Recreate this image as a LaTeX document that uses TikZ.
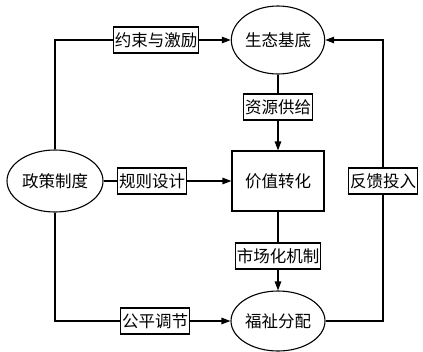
\documentclass[tikz,border=0pt]{standalone}
\usepackage{fontspec}
\newfontfamily\cjk{Noto Sans CJK SC}
\usetikzlibrary{shapes.geometric,arrows.meta}
\begin{document}
\begin{tikzpicture}[x=1pt,y=-1pt,
  every node/.style={font=\cjk\fontsize{16.5}{18}\selectfont, line width=1.1pt},
  oval/.style={draw, ellipse, inner sep=0pt},
  block/.style={draw, rectangle, minimum width=92pt, minimum height=60pt},
  tag/.style={draw, fill=white, rectangle, inner xsep=1.5pt, inner ysep=0pt, minimum height=26pt},
  conn/.style={line width=1.1pt},
  arr/.style={conn, -{Triangle[length=9pt,width=6.5pt]}}]
\useasboundingbox (0,0) rectangle (423,351);
\node[oval, minimum width=93pt, minimum height=68pt] (stbd) at (278,40) {生态基底};
\node[block] (jzzh) at (278,181) {价值转化};
\node[oval, minimum width=94pt, minimum height=60pt] (fzfp) at (278,321) {福祉分配};
\node[oval, minimum width=96pt, minimum height=62pt] (zczd) at (55,181) {政策制度};
\node[tag] (ys) at (156,40) {约束与激励};
\node[tag] (gz) at (152,181) {规则设计};
\node[tag] (gp) at (155,321) {公平调节};
\node[tag] (zy) at (278,107) {资源供给};
\node[tag] (sc) at (278,256) {市场化机制};
\node[tag] (fk) at (383,181) {反馈投入};
% connectors
\draw[conn] (zczd.north) |- (ys.west);
\draw[arr] (ys.east) -- (stbd.west);
\draw[conn] (zczd.east) -- (gz.west);
\draw[arr] (gz.east) -- (jzzh.west);
\draw[conn] (zczd.south) |- (gp.west);
\draw[arr] (gp.east) -- (fzfp.west);
\draw[conn] (stbd.south) -- (zy.north);
\draw[arr] (zy.south) -- (jzzh.north);
\draw[conn] (jzzh.south) -- (sc.north);
\draw[arr] (sc.south) -- (fzfp.north);
\draw[conn] (fzfp.east) -| (fk.south);
\draw[arr] (fk.north) |- (stbd.east);
\end{tikzpicture}
\end{document}
